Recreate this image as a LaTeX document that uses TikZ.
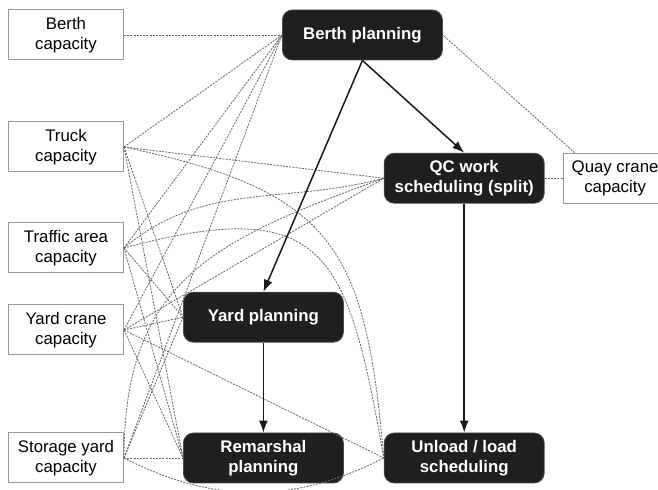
\documentclass[tikz,border=0pt]{standalone}
\usepackage{fontspec}
\setmainfont{Liberation Sans}
\usetikzlibrary{positioning,arrows.meta}

\begin{document}
\begin{tikzpicture}[
    >={Latex[length=6pt,width=4.5pt]},
    auto,
    node distance=20pt,
    cap node/.style={draw=gray!80,line width=0.5pt,fill=white,minimum width=57.5pt,minimum height=25pt,inner sep=0pt,align=center,font=\fontsize{8.4}{9.8}\selectfont},
    plan node/.style={draw=gray!60!black,line width=0.4pt,fill=black!88,text=white,rounded corners=5pt,minimum width=80pt,minimum height=25pt,inner sep=0pt,align=center,font=\fontsize{8.4}{9.8}\selectfont\bfseries},
    dep/.style={gray!80!black,line width=0.4pt,dash pattern=on 1pt off 0.6pt},
    flow/.style={black!90,line width=0.75pt}
    ]

    \useasboundingbox (0,0) rectangle (329pt,-245pt);

    \node[cap node] (bcap) at (33pt,-17.5pt) {Berth\\capacity};
    \node[cap node] (tcap) [below=30.5pt of bcap] {Truck\\capacity};
    \node[cap node] (acap) [below=25pt of tcap] {Traffic area\\capacity};
    \node[cap node] (ycap) [below=15.5pt of acap] {Yard crane\\capacity};
    \node[cap node] (scap) [below=38.5pt of ycap] {Storage yard\\capacity};
    \node[plan node] (bp) [right=79pt of bcap] {Berth planning};
    \node[plan node] (rp) [right=29.5pt of scap] {Remarshal\\planning};
    \node[plan node] (yp) [above=45pt of rp] {Yard planning};
    \node[plan node] (ul) [right=20pt of rp] {Unload / load\\scheduling};
    \node[plan node] (qc) [above=114.5pt of ul] {QC work\\scheduling (split)};
    \node[cap node,minimum width=52pt] (qcap) [right=9pt of qc] {Quay crane\\capacity};

    \path[dep]
      (bcap.east) edge (bp.west)
      (tcap.east) edge (bp.west)
      (tcap.east) edge (qc.west)
      (tcap.east) edge (yp.west)
      (tcap.east) edge (rp.west)
      (tcap.east) edge[out=-12,in=95,looseness=1.35] (ul.west)
      (acap.east) edge (bp.west)
      (acap.east) edge[out=40,in=195] (qc.west)
      (acap.east) edge (yp.west)
      (acap.east) edge (rp.west)
      (acap.east) edge[out=15,in=100,looseness=1.6] (ul.west)
      (ycap.east) edge (bp.west)
      (ycap.east) edge (qc.west)
      (ycap.east) edge (yp.west)
      (ycap.east) edge (rp.west)
      (ycap.east) edge (ul.west)
      (scap.east) edge (bp.west)
      (scap.east) edge[out=90,in=200,looseness=1.2] (qc.west)
      (scap.east) edge (yp.west)
      (scap.east) edge (rp.west)
      (scap.east) edge[bend right=27] (ul.west)
      (qcap.west) edge (qc.east)
      ([xshift=6pt]qcap.north west) edge (bp.east);

    \path[->,flow]
      (bp.south) edge (qc.north)
      (bp.south) edge (yp.north)
      (yp) edge (rp)
      (qc) edge (ul);
  \end{tikzpicture}
\end{document}
